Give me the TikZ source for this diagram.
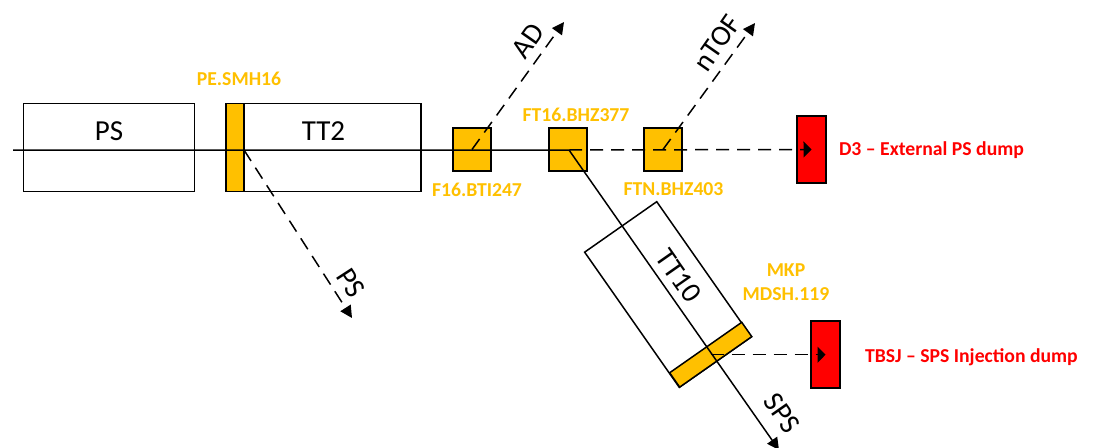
\documentclass[tikz,border=0pt]{standalone}
\usepackage{fontspec}
\usepackage{xcolor}
\setmainfont{Carlito}
\usetikzlibrary{arrows.meta}
\definecolor{kickerorange}{HTML}{FFC000}

\begin{document}
\begin{tikzpicture}[
    x=1pt, y=-1pt,
    machine/.style={
        rectangle,
        draw,
        line width=1.5pt,
        inner sep=0pt
    },
    kicker/.style={machine, fill=kickerorange},
    dumpbox/.style={machine, fill=red, minimum width=29pt, minimum height=67pt},
    magnetname/.style={text=kickerorange, align=center, font=\fontsize{19.7}{24}\selectfont\bfseries},
    dumpname/.style={text=red, anchor=west, font=\fontsize{19.7}{20}\selectfont\bfseries},
    linename/.style={font=\fontsize{29}{29}\selectfont},
    beam/.style={line width=1.5pt, -{Triangle[length=12pt,width=12pt]}},
    extraction/.style={beam, dash pattern=on 13pt off 8pt},
    dumpline/.style={line width=1.5pt, dash pattern=on 13pt off 8pt, -{Triangle[length=8pt,width=16pt]}}
]
\useasboundingbox (0,0) rectangle (1099,447);

% Machines and transfer lines
\node[machine, minimum width=171pt, minimum height=88pt] (ps) at (109,147.5) {};
\node[machine, minimum width=195pt, minimum height=88pt] (tt2) at (323.5,147.5) {};
\node[machine, rotate=-55, minimum width=165pt, minimum height=88pt] (tt10) at (668,294.5) {};

% Kickers and bends
\node[kicker, minimum width=18pt, minimum height=88pt] (smh) at (235,147.5) {};
\node[kicker, minimum width=38pt, minimum height=43pt] (bti) at (472,149.5) {};
\node[kicker, minimum width=38pt, minimum height=43pt] (bhzft) at (568,149.5) {};
\node[kicker, minimum width=38pt, minimum height=43pt] (bhzftn) at (663,149.5) {};
\node[kicker, rotate=-55, minimum width=17.5pt, minimum height=88pt] (mkp) at (710.7,354.7) {};

% Dumps
\node[dumpbox] (dthree) at (811.5,149.5) {};
\node[dumpbox] (tbsj) at (825.5,354.7) {};

% Beam lines
\coordinate (beamstart) at (13,150);
\coordinate (bend) at (569,150);
\coordinate (smhexit) at (244,150);
\coordinate (psend) at (352,318);
\coordinate (adend) at (564,22);
\coordinate (ntofend) at (755,23);
\coordinate (spsend) at (779,450);

\draw[beam] (beamstart) -- (bend) -- (spsend);
\draw[extraction] (smhexit) -- (psend);
\draw[extraction] (bti.center) -- (adend);
\draw[extraction] (bhzftn.center) -- (ntofend);
\draw[dumpline] (bend) -- (dthree.center);
\draw[dumpline] (mkp.center) -- (tbsj.center);

% Machine labels
\node[linename] (pslabel) at (109,131) {PS};
\node[linename] (ttwolabel) at (323.5,131) {TT2};
\node[linename, rotate=-55] (tttenlabel) at (678.6,275.7) {TT10};
\node[linename, rotate=-57] (psline) at (351,283) {PS};
\node[linename, rotate=55] (adline) at (528,41) {AD};
\node[linename, rotate=55] (ntofline) at (717,43) {nTOF};
\node[linename, rotate=-55] (spsline) at (782,413) {SPS};

% Magnet labels
\node[magnetname] (smhlabel) at (239,79) {PE.SMH16};
\node[magnetname] (btilabel) at (477,190) {F16.BTI247};
\node[magnetname] (bhzftlabel) at (576,115) {FT16.BHZ377};
\node[magnetname] (bhzftnlabel) at (673.5,189) {FTN.BHZ403};
\node[magnetname] (mkplabel) at (786,282) {MKP\\MDSH.119};

% Dump labels
\node[dumpname] (dthreelabel) at (835.5,150) {D3 -- External PS dump};
\node[dumpname] (tbsjlabel) at (861.5,357) {TBSJ -- SPS Injection dump};

\end{tikzpicture}
\end{document}
